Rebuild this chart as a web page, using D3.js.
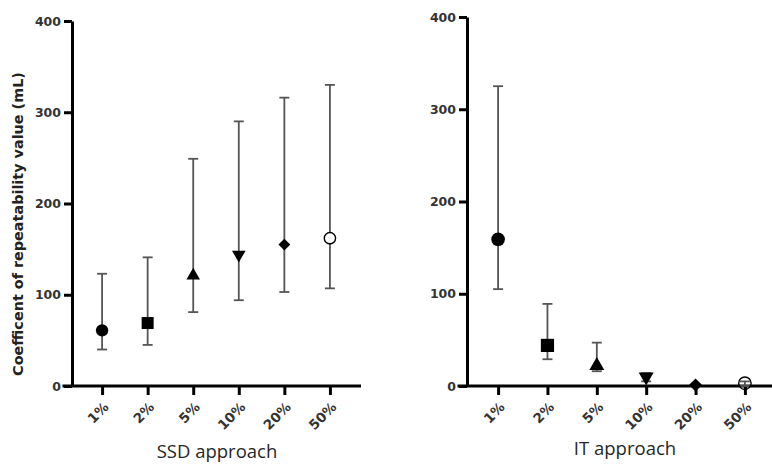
<!DOCTYPE html>
<html>
<head>
<meta charset="utf-8">
<script src="https://cdn.jsdelivr.net/npm/d3@7"></script>
<style>
  html, body { margin: 0; padding: 0; background: #fff; }
  svg { display: block; }
</style>
</head>
<body>
<svg id="chart" width="772" height="467"></svg>
<script>
// ---- data ----
const categories = ["1%", "2%", "5%", "10%", "20%", "50%"];
const yTicks = [0, 100, 200, 300, 400];

const ssdValue = [61, 69, 121, 144, 155, 162];
const ssdLower = [40, 45, 81, 94, 103, 107];
const ssdUpper = [123, 141, 249, 290, 316, 330];

const itValue = [159, 44, 22, 10, 1, 3];
const itLower = [105, 29, 16, 5, 0, 0];
const itUpper = [325, 89, 47, 14, 2, 5];

const markerShapes = ["circle", "square", "triangleUp", "triangleDown", "diamond", "openCircle"];

// ---- drawing ----
const svg = d3.select("#chart");
const TICK_FONT = "'DejaVu Sans', sans-serif";

function panel(opts) {
  const g = svg.append("g");
  const x = d3.scalePoint().domain(categories).range([opts.x0, opts.x1]).padding(opts.pad);
  const y = d3.scaleLinear().domain([0, 400]).range([opts.yBottom, opts.yTop]);

  // y axis
  const yAxis = d3.axisLeft(y).tickValues(yTicks).tickSize(8).tickSizeOuter(0).tickPadding(3);
  const ya = g.append("g").attr("transform", `translate(${opts.x0},0)`).call(yAxis);
  ya.select(".domain").attr("stroke", "#000").attr("stroke-width", 3);
  ya.selectAll(".tick line").attr("stroke", "#000").attr("stroke-width", 3);
  ya.selectAll(".tick text")
    .attr("fill", "#333").attr("font-family", TICK_FONT)
    .attr("font-weight", "bold").attr("font-size", 12.5);

  // x axis
  const xAxis = d3.axisBottom(x).tickSize(9).tickSizeOuter(0);
  const xa = g.append("g").attr("transform", `translate(0,${opts.yBottom})`).call(xAxis);
  xa.select(".domain").remove();
  xa.selectAll(".tick line").attr("stroke", "#000").attr("stroke-width", 3);
  xa.selectAll(".tick text")
    .attr("fill", "#333").attr("font-family", TICK_FONT)
    .attr("font-weight", "bold").attr("font-size", 13.5)
    .attr("text-anchor", "end")
    .attr("dy", 0)
    .attr("transform", "translate(7,22) rotate(-45)")
    .attr("y", 0).attr("x", 0);
  g.append("line")
    .attr("x1", opts.x0 - 9.5).attr("x2", opts.xAxisEnd)
    .attr("y1", opts.yBottom).attr("y2", opts.yBottom)
    .attr("stroke", "#000").attr("stroke-width", 3);

  // error bars (drawn first, markers on top)
  const cap = 5;
  const eb = g.append("g").attr("stroke", "#555").attr("stroke-width", 1.8).attr("fill", "none");
  categories.forEach((c, i) => {
    const cx = x(c);
    eb.append("line").attr("x1", cx).attr("x2", cx)
      .attr("y1", y(opts.lower[i])).attr("y2", y(opts.upper[i]));
    eb.append("line").attr("x1", cx - cap).attr("x2", cx + cap)
      .attr("y1", y(opts.upper[i])).attr("y2", y(opts.upper[i]));
    eb.append("line").attr("x1", cx - cap).attr("x2", cx + cap)
      .attr("y1", y(opts.lower[i])).attr("y2", y(opts.lower[i]));
  });

  // markers
  const s = opts.markerScale;
  const mg = g.append("g");
  categories.forEach((c, i) => {
    const cx = x(c), cy = y(opts.value[i]);
    const shape = markerShapes[i];
    let path, rot = 0, fill = "#000", stroke = "none", sw = 0;
    if (shape === "circle") path = d3.symbol(d3.symbolCircle, 120 * s * s)();
    else if (shape === "square") path = d3.symbol(d3.symbolSquare, 144 * s * s)();
    else if (shape === "triangleUp") path = d3.symbol(d3.symbolTriangle, 80 * s * s)();
    else if (shape === "triangleDown") { path = d3.symbol(d3.symbolTriangle, 80 * s * s)(); rot = 180; }
    else if (shape === "diamond") { path = d3.symbol(d3.symbolSquare, 70 * s * s)(); rot = 45; }
    else { path = d3.symbol(d3.symbolCircle, 100 * s * s)(); fill = opts.openFill; stroke = "#000"; sw = 1.4; }
    mg.append("path").attr("d", path)
      .attr("transform", `translate(${cx},${cy}) rotate(${rot})`)
      .attr("fill", fill).attr("stroke", stroke).attr("stroke-width", sw);
  });

  // x title
  g.append("text")
    .attr("x", opts.titleX).attr("y", opts.titleY)
    .attr("text-anchor", "middle")
    .attr("font-family", "'Open Sans', sans-serif")
    .attr("font-size", 18.5).attr("fill", "#262626")
    .text(opts.title);
}

panel({
  x0: 72, x1: 360, xAxisEnd: 361, pad: 0.66, yBottom: 386, yTop: 21,
  value: ssdValue, lower: ssdLower, upper: ssdUpper, openFill: "#fff",
  title: "SSD approach", titleX: 217, titleY: 458, markerScale: 1
});

panel({
  x0: 467, x1: 776, xAxisEnd: 772, pad: 0.63, yBottom: 386, yTop: 17,
  value: itValue, lower: itLower, upper: itUpper, openFill: "none",
  title: "IT approach", titleX: 625, titleY: 455, markerScale: 1.1
});

// y-axis title
svg.append("text")
  .attr("transform", "translate(22.5,224) rotate(-90)")
  .attr("text-anchor", "middle")
  .attr("font-family", TICK_FONT)
  .attr("font-weight", "bold")
  .attr("font-size", 14.4)
  .attr("fill", "#222")
  .text("Coefficent of repeatability value (mL)");
</script>
</body>
</html>
